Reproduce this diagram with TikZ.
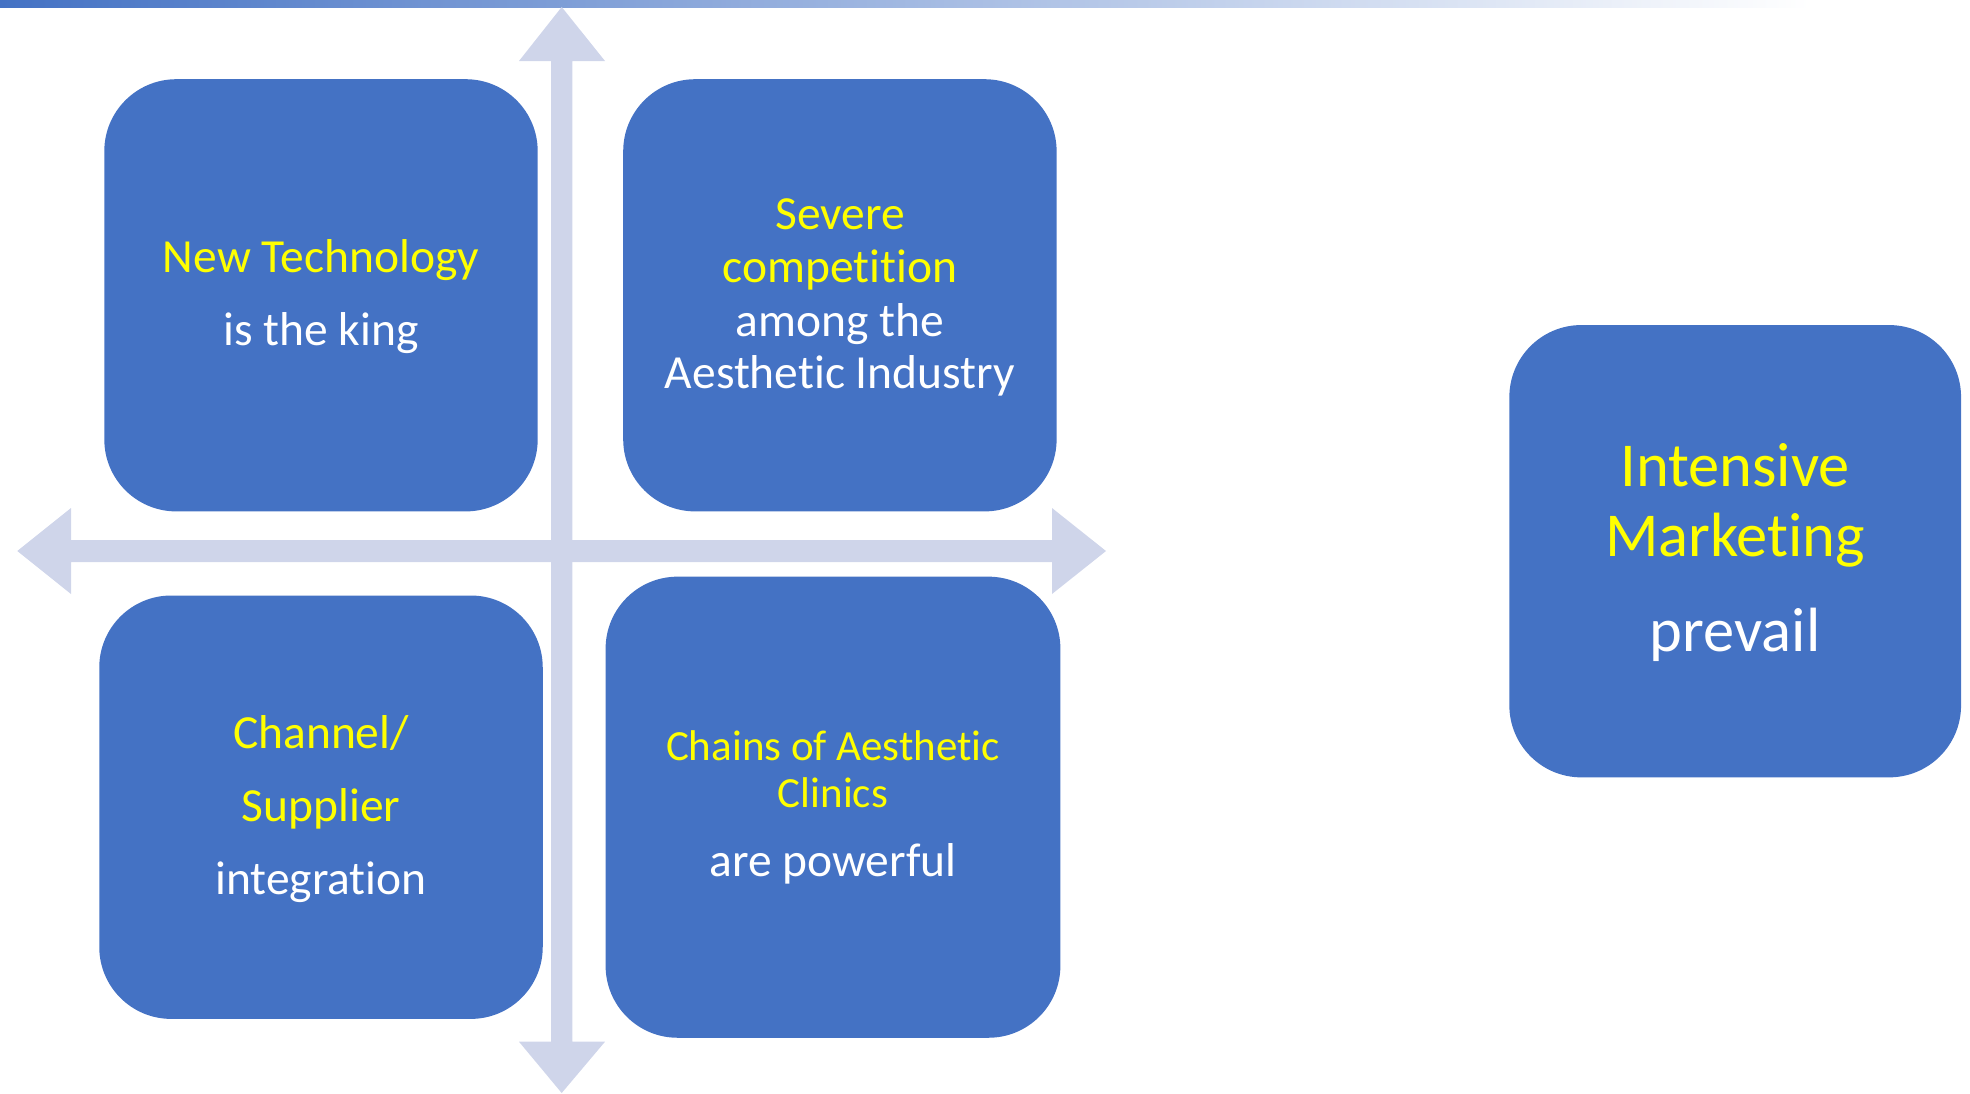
\documentclass[tikz,border=0pt]{standalone}
\usepackage{fontspec}
\setmainfont[Ligatures=NoCommon]{Carlito}
\definecolor{boxblue}{HTML}{4472C4}
\definecolor{axiscol}{HTML}{CFD5EA}
\definecolor{txtyellow}{HTML}{FFFF00}
\tikzset{
  box/.style={fill=boxblue, draw=none, rounded corners=72pt, inner sep=0pt},
  ytext/.style={text=txtyellow, anchor=base, inner sep=0pt},
  wtext/.style={text=white, anchor=base, inner sep=0pt},
  fmid/.style={font=\fontsize{47.5}{56}\selectfont},
  fsmall/.style={font=\fontsize{43}{50}\selectfont},
  fbig/.style={font=\fontsize{62.5}{72}\selectfont},
}
\begin{document}
\begin{tikzpicture}[x=1pt,y=-1pt]
\useasboundingbox (0,0) rectangle (1970,1093);
% top gradient bar
\shade[left color=boxblue, right color=white] (0,0) rectangle (1810,7);
% axes
\fill[axiscol] (551,61) -- (519,61) -- (561.7,7) -- (605,61) -- (572.4,61) -- (572.4,1041.7) -- (605,1041.7) -- (561.7,1093) -- (519,1041.7) -- (551,1041.7) -- cycle;
\fill[axiscol] (71,540) -- (71,508) -- (17.3,551) -- (71,594) -- (71,562) -- (1052,562) -- (1052,594) -- (1106,551) -- (1052,508) -- (1052,540) -- cycle;
% boxes
\node[box, minimum width=433.4pt, minimum height=432.2pt] (b1) at (321,295.3) {};
\node[box, minimum width=433.4pt, minimum height=432.2pt] (b2) at (839.9,295.3) {};
\node[box, minimum width=443.5pt, minimum height=423.4pt] (b3) at (321,807.2) {};
\node[box, minimum width=454.8pt, minimum height=461.1pt] (b4) at (833,807.2) {};
\node[box, minimum width=451.7pt, minimum height=452.3pt] (b5) at (1735.2,551.2) {};
% texts box 1
\node[ytext, fmid] (t1a) at (321,272.3) {New Technology};
\node[wtext, fmid] (t1b) at (321,345) {is the king};
% box 2
\node[ytext, fmid] (t2a) at (839.9,229.5) {Severe};
\node[ytext, fmid] (t2b) at (839.9,282.5) {competition};
\node[wtext, fmid] (t2c) at (839.9,336) {among the};
\node[wtext, fmid] (t2d) at (839.9,388) {Aesthetic Industry};
% box 3
\node[ytext, fmid] (t3a) at (321,748) {Channel/};
\node[ytext, fmid] (t3b) at (321,821) {Supplier};
\node[wtext, fmid] (t3c) at (321,894) {integration};
% box 4
\node[ytext, fsmall] (t4a) at (833,760) {Chains of Aesthetic};
\node[ytext, fsmall] (t4b) at (833,807.7) {Clinics};
\node[wtext, fmid] (t4c) at (833,876.5) {are powerful};
% box 5
\node[ytext, fbig] (t5a) at (1735.2,486.7) {Intensive};
\node[ytext, fbig] (t5b) at (1735.2,556.7) {Marketing};
\node[wtext, fbig] (t5c) at (1735.2,651.7) {prevail};
\end{tikzpicture}
\end{document}
